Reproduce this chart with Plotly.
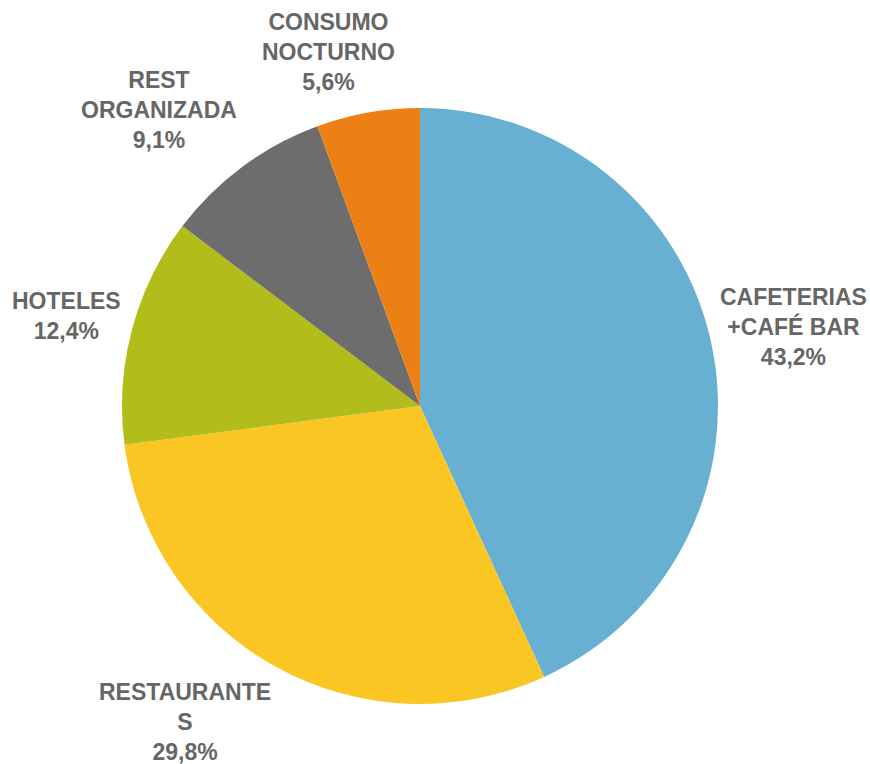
import plotly.graph_objects as go

# Share of establishments by segment (clockwise from 12 o'clock)
segments = ["CAFETERIAS<br>+CAFÉ BAR", "RESTAURANTE<br>S", "HOTELES", "REST<br>ORGANIZADA", "CONSUMO<br>NOCTURNO"]
shares = [43.2, 29.8, 12.4, 9.1, 5.6]
colors = ["#67B0D2", "#F9C624", "#B2BC1B", "#6D6D6D", "#EC8015"]

# Label anchor points in paper coordinates (x, y)
label_pos = [(0.912, 0.572), (0.213, 0.055), (0.077, 0.586), (0.183, 0.856), (0.378, 0.932)]

W, H = 870, 764
fig = go.Figure(go.Pie(
    labels=[s.replace("<br>", " ") for s in segments],
    values=shares,
    marker=dict(colors=colors, line=dict(width=0)),
    sort=False,
    direction="clockwise",
    rotation=0,
    textinfo="none",
    hoverinfo="label+percent",
    domain=dict(x=[122 / W, 718 / W], y=[1 - 704 / H, 1 - 108 / H]),
    showlegend=False,
))

for seg, val, (px, py) in zip(segments, shares, label_pos):
    fig.add_annotation(
        x=px, y=py, xref="paper", yref="paper",
        text=f"<b>{seg}<br>{val:.1f}%</b>".replace(".", ","),
        showarrow=False, align="center", xanchor="center", yanchor="middle",
        font=dict(family="Liberation Sans, Arial, sans-serif", size=23, color="#666666"),
    )

fig.update_layout(
    width=W, height=H,
    margin=dict(l=0, r=0, t=0, b=0),
    paper_bgcolor="white", plot_bgcolor="white",
)

fig.write_html("out.html")
